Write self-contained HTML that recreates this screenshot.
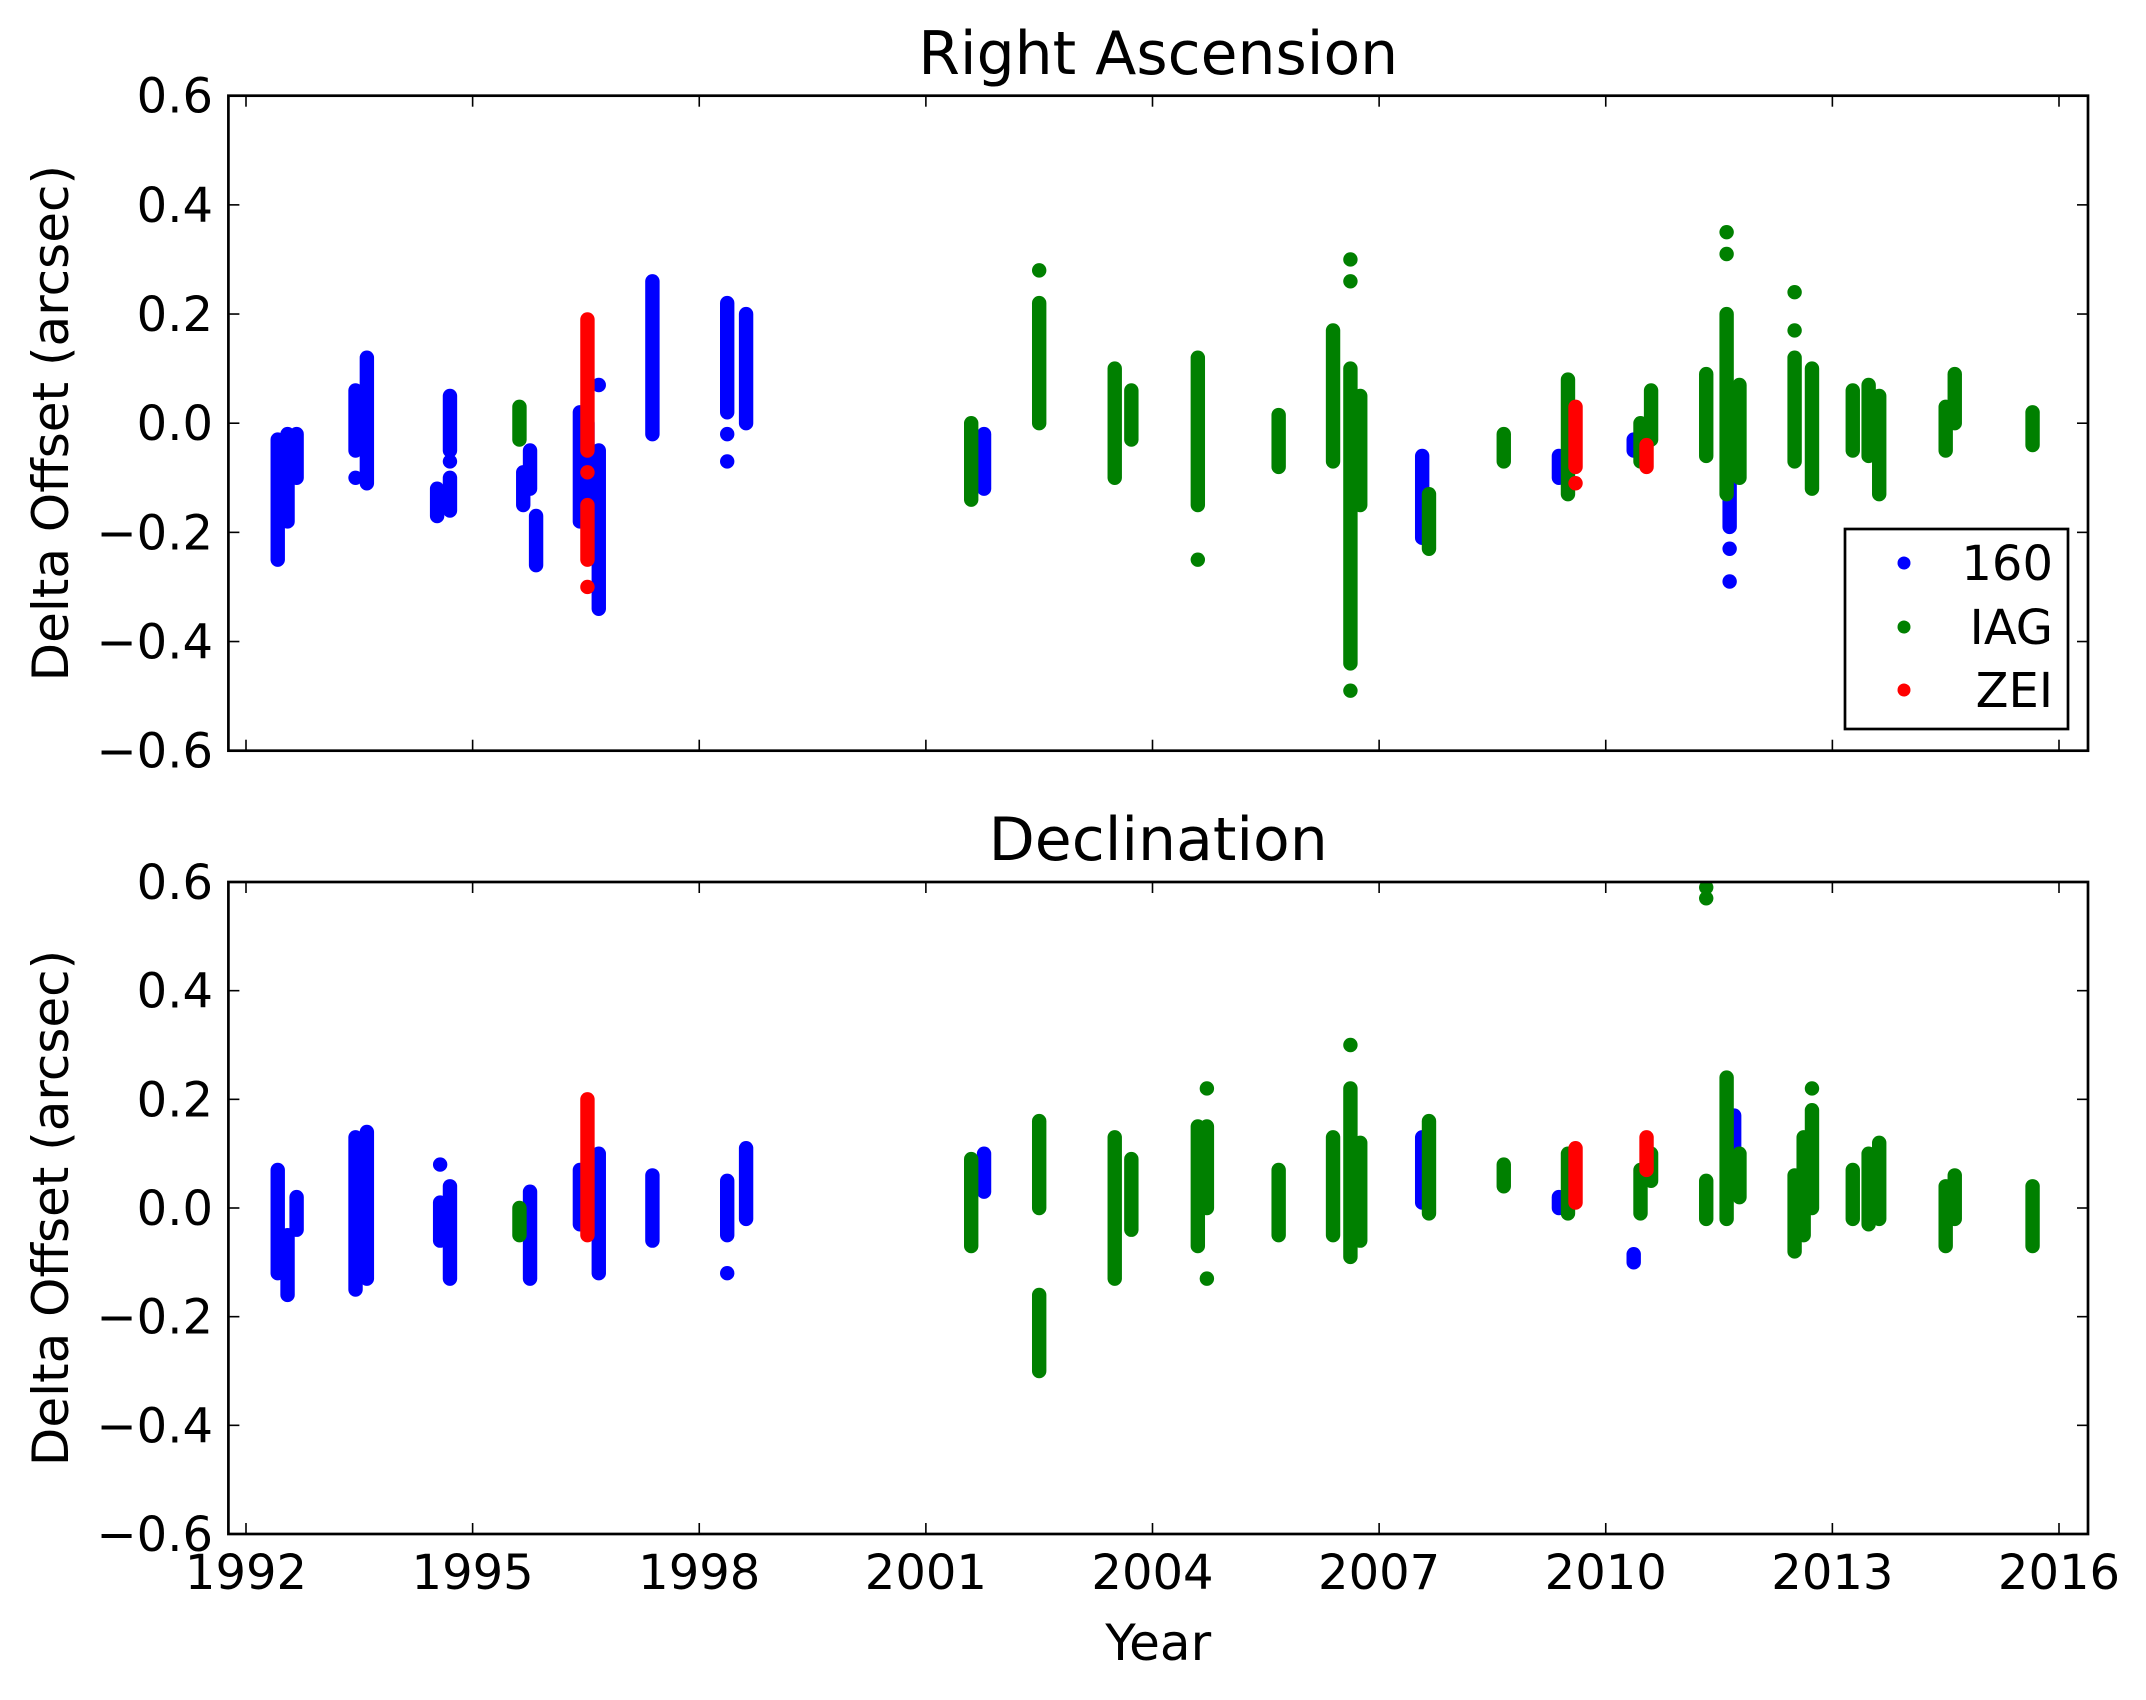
<!DOCTYPE html>
<html><head><meta charset="utf-8"><title>Delta Offset</title>
<style>
html,body{margin:0;padding:0;background:#fff;}
svg{display:block;font-family:"DejaVu Sans","Liberation Sans",sans-serif;}
</style></head>
<body>
<svg id="chart" width="2146" height="1700" viewBox="0 0 2146 1700" xmlns="http://www.w3.org/2000/svg">
<rect x="0" y="0" width="2146" height="1700" fill="#fff"/>
</svg>
<script>
// ---------- data (years, arcsec) ----------
const xTicks = [1992, 1995, 1998, 2001, 2004, 2007, 2010, 2013, 2016];
const yTicks = [-0.6, -0.4, -0.2, 0.0, 0.2, 0.4, 0.6];
const yTickLabels = ["\u22120.6", "\u22120.4", "\u22120.2", "0.0", "0.2", "0.4", "0.6"];
const seriesNames = ["160", "IAG", "ZEI"];
const seriesColors = ["#0000ff", "#008000", "#ff0000"];
const panelTitles = ["Right Ascension", "Declination"];

// RA – dense vertical runs: year, low, high
const ra160Years = [1992.42, 1992.55, 1992.67, 1993.45, 1993.6, 1994.53, 1994.7, 1994.7, 1995.67, 1995.76, 1995.84, 1996.42, 1996.52, 1996.67, 1997.38, 1998.37, 1998.62, 2001.77, 2007.57, 2009.38, 2010.37, 2011.64];
const ra160Low   = [-0.25, -0.18, -0.10, -0.05, -0.11, -0.17, -0.16, -0.05, -0.15, -0.12, -0.26, -0.18, -0.15, -0.34, -0.02, 0.02, 0.00, -0.12, -0.21, -0.10, -0.05, -0.19];
const ra160High  = [-0.03, -0.02, -0.02, 0.06, 0.12, -0.12, -0.10, 0.05, -0.09, -0.05, -0.17, 0.02, 0.00, -0.05, 0.26, 0.22, 0.20, -0.02, -0.06, -0.06, -0.03, -0.08];
const ra160PtYears = [1993.45, 1994.7, 1996.67, 1998.37, 1998.37, 2011.64, 2011.64];
const ra160PtVals  = [-0.10, -0.07, 0.07, -0.02, -0.07, -0.23, -0.29];

const raIagYears = [1995.62, 2001.6, 2002.5, 2003.5, 2003.72, 2004.6, 2005.67, 2006.39, 2006.62, 2006.75, 2007.66, 2008.65, 2009.5, 2010.46, 2010.6, 2011.33, 2011.6, 2011.77, 2012.5, 2012.73, 2013.27, 2013.48, 2013.62, 2014.5, 2014.62, 2015.65];
const raIagLow   = [-0.03, -0.14, 0.00, -0.10, -0.03, -0.15, -0.08, -0.07, -0.44, -0.15, -0.23, -0.07, -0.13, -0.07, -0.03, -0.06, -0.13, -0.10, -0.07, -0.12, -0.05, -0.06, -0.13, -0.05, 0.00, -0.04];
const raIagHigh  = [0.03, 0.00, 0.22, 0.10, 0.06, 0.12, 0.015, 0.17, 0.10, 0.05, -0.13, -0.02, 0.08, 0.00, 0.06, 0.09, 0.20, 0.07, 0.12, 0.10, 0.06, 0.07, 0.05, 0.03, 0.09, 0.02];
const raIagPtYears = [2002.5, 2004.6, 2006.62, 2006.62, 2006.62, 2011.6, 2011.6, 2012.5, 2012.5];
const raIagPtVals  = [0.28, -0.25, 0.30, 0.26, -0.49, 0.35, 0.31, 0.24, 0.17];

const raZeiYears = [1996.52, 1996.52, 2009.6, 2010.54];
const raZeiLow   = [-0.05, -0.25, -0.08, -0.08];
const raZeiHigh  = [0.19, -0.15, 0.03, -0.04];
const raZeiPtYears = [1996.52, 1996.52, 2009.6];
const raZeiPtVals  = [-0.09, -0.30, -0.11];

// Dec
const de160Years = [1992.42, 1992.55, 1992.67, 1993.45, 1993.6, 1994.57, 1994.7, 1995.76, 1996.42, 1996.67, 1997.38, 1998.37, 1998.62, 2001.77, 2007.57, 2009.38, 2010.37, 2011.7];
const de160Low   = [-0.12, -0.16, -0.04, -0.15, -0.13, -0.06, -0.13, -0.13, -0.03, -0.12, -0.06, -0.05, -0.02, 0.03, 0.01, 0.00, -0.10, 0.10];
const de160High  = [0.07, -0.05, 0.02, 0.13, 0.14, 0.01, 0.04, 0.03, 0.07, 0.10, 0.06, 0.05, 0.11, 0.10, 0.13, 0.02, -0.085, 0.17];
const de160PtYears = [1994.57, 1998.37];
const de160PtVals  = [0.08, -0.12];

const deIagYears = [1995.62, 2001.6, 2002.5, 2002.5, 2003.5, 2003.72, 2004.6, 2004.72, 2005.67, 2006.39, 2006.62, 2006.75, 2007.66, 2008.65, 2009.5, 2010.46, 2010.6, 2011.33, 2011.6, 2011.77, 2012.5, 2012.62, 2012.73, 2013.27, 2013.48, 2013.62, 2014.5, 2014.62, 2015.65];
const deIagLow   = [-0.05, -0.07, -0.30, 0.00, -0.13, -0.04, -0.07, 0.00, -0.05, -0.05, -0.09, -0.06, -0.01, 0.04, -0.01, -0.01, 0.05, -0.02, -0.02, 0.02, -0.08, -0.05, 0.00, -0.02, -0.03, -0.02, -0.07, -0.02, -0.07];
const deIagHigh  = [0.00, 0.09, -0.16, 0.16, 0.13, 0.09, 0.15, 0.15, 0.07, 0.13, 0.22, 0.12, 0.16, 0.08, 0.10, 0.07, 0.10, 0.05, 0.24, 0.10, 0.06, 0.13, 0.18, 0.07, 0.10, 0.12, 0.04, 0.06, 0.04];
const deIagPtYears = [2004.72, 2004.72, 2006.62, 2011.33, 2011.33, 2012.73];
const deIagPtVals  = [0.22, -0.13, 0.30, 0.57, 0.59, 0.22];

const deZeiYears = [1996.52, 2009.6, 2010.54];
const deZeiLow   = [-0.05, 0.01, 0.07];
const deZeiHigh  = [0.20, 0.11, 0.13];
const deZeiPtYears = [];
const deZeiPtVals  = [];

// ---------- layout ----------
const NS = "http://www.w3.org/2000/svg";
const svg = document.getElementById("chart");
const AX_L = 228.4, AX_R = 2088;
const panels = [{top: 95.7, bot: 750.7, titleY: 74, name: "ra"}, {top: 882, bot: 1534, titleY: 860, name: "dec"}];
const X0 = 246, XPY = (2059 - 246) / 24;
function xs(year) { return X0 + (year - 1992) * XPY; }
function ysFor(p) { return v => p.bot - (v + 0.6) / 1.2 * (p.bot - p.top); }
const R = 7.2;

function mk(tag, attrs, parent) {
  const e = document.createElementNS(NS, tag);
  for (const k in attrs) e.setAttribute(k, attrs[k]);
  (parent || svg).appendChild(e);
  return e;
}

const panelData = [
  [[ra160Years, ra160Low, ra160High, ra160PtYears, ra160PtVals],
   [raIagYears, raIagLow, raIagHigh, raIagPtYears, raIagPtVals],
   [raZeiYears, raZeiLow, raZeiHigh, raZeiPtYears, raZeiPtVals]],
  [[de160Years, de160Low, de160High, de160PtYears, de160PtVals],
   [deIagYears, deIagLow, deIagHigh, deIagPtYears, deIagPtVals],
   [deZeiYears, deZeiLow, deZeiHigh, deZeiPtYears, deZeiPtVals]]
];

panels.forEach((p, pi) => {
  const ys = ysFor(p);
  const g = mk("g", {});
  
  

  const cp = mk("clipPath", {id: "clip" + pi}, g);
  mk("rect", {x: AX_L, y: p.top, width: AX_R - AX_L, height: p.bot - p.top}, cp);

  panelData[pi].forEach((s, si) => {
    const sg = mk("g", {"clip-path": "url(#clip" + pi + ")", fill: seriesColors[si], stroke: seriesColors[si]}, g);
    
    
    const [yrs, lo, hi, pyrs, pv] = s;
    yrs.forEach((yr, i) => {
      const ln = mk("line", {x1: xs(yr), x2: xs(yr), y1: ys(lo[i]), y2: ys(hi[i]), "stroke-width": 2 * R, "stroke-linecap": "round"}, sg);
      
      
    });
    pyrs.forEach((yr, i) => {
      const c = mk("circle", {cx: xs(yr), cy: ys(pv[i]), r: R, stroke: "none"}, sg);
      
      
    });
  });

  const fr = mk("rect", {x: AX_L, y: p.top, width: AX_R - AX_L, height: p.bot - p.top, fill: "none", stroke: "#000", "stroke-width": 2.7}, g);
  
  

  yTicks.forEach((v, i) => {
    const y = ys(v);
    mk("line", {x1: AX_L, x2: AX_L + 11, y1: y, y2: y, stroke: "#000", "stroke-width": 1.6}, g);
    mk("line", {x1: AX_R, x2: AX_R - 11, y1: y, y2: y, stroke: "#000", "stroke-width": 1.6}, g);
    const t = mk("text", {x: 213, y: y + 17, "text-anchor": "end", "font-size": 48}, g);
    t.textContent = yTickLabels[i];
    
    
  });
  xTicks.forEach(yr => {
    const x = xs(yr);
    mk("line", {x1: x, x2: x, y1: p.bot, y2: p.bot - 11, stroke: "#000", "stroke-width": 1.6}, g);
    mk("line", {x1: x, x2: x, y1: p.top, y2: p.top + 11, stroke: "#000", "stroke-width": 1.6}, g);
    if (pi === 1) {
      const t = mk("text", {x: x, y: 1589, "text-anchor": "middle", "font-size": 48}, g);
      t.textContent = String(yr);
      
      
    }
  });

  const tt = mk("text", {x: (AX_L + AX_R) / 2, y: p.titleY, "text-anchor": "middle", "font-size": 60}, g);
  tt.textContent = panelTitles[pi];
  
  

  const cy = (p.top + p.bot) / 2;
  const yl = mk("text", {x: 0, y: 0, "text-anchor": "middle", "font-size": 50, transform: "translate(68," + cy + ") rotate(-90)"}, g);
  yl.textContent = "Delta Offset (arcsec)";
  
  
});

const xl = mk("text", {x: (AX_L + AX_R) / 2, y: 1660, "text-anchor": "middle", "font-size": 50});
xl.textContent = "Year";



const lg = mk("g", {});


mk("rect", {x: 1845, y: 529, width: 223, height: 200, fill: "#fff", stroke: "#000", "stroke-width": 2.7}, lg);
const legendRows = [563, 627, 690];
seriesNames.forEach((n, i) => {
  const e = mk("g", {}, lg);
  
  
  mk("circle", {cx: 1904, cy: legendRows[i], r: 6.5, fill: seriesColors[i]}, e);
  const t = mk("text", {x: 2053, y: legendRows[i] + 17, "text-anchor": "end", "font-size": 48}, e);
  t.textContent = n;
});
</script>
</body></html>
